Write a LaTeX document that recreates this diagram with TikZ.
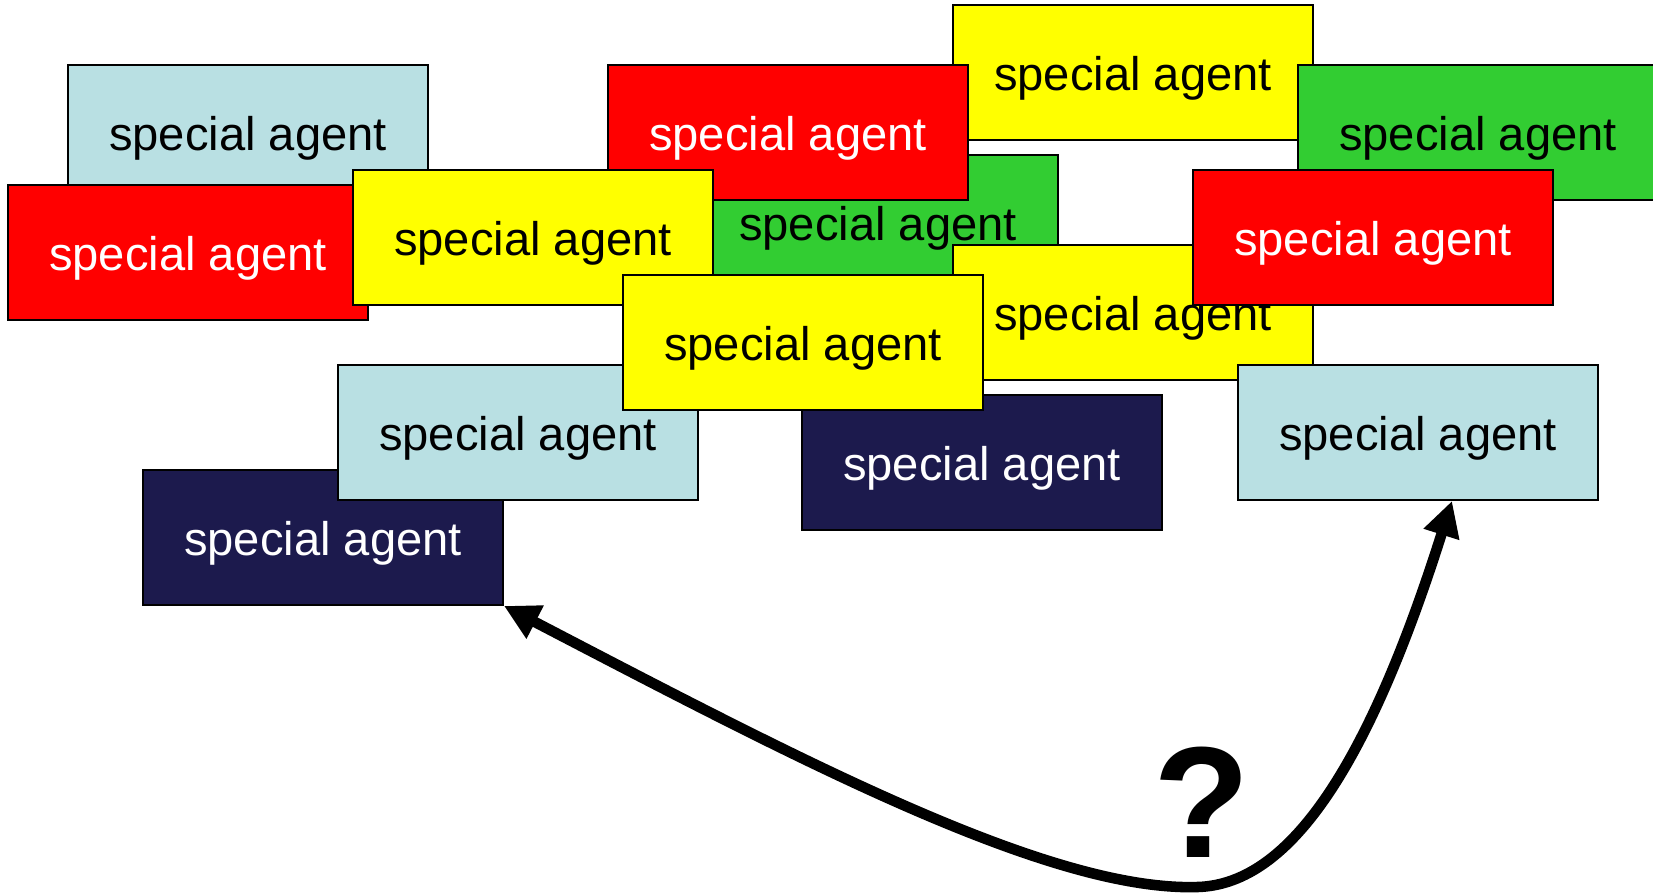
\documentclass[tikz,border=0pt]{standalone}
\usepackage{fontspec}
\setmainfont{Liberation Sans}
\usepackage{tikz}
\usetikzlibrary{arrows.meta,shapes,positioning}
\usepackage{xcolor}
\definecolor{sagblue}{RGB}{185,224,227}
\definecolor{sagred}{RGB}{255,0,0}
\definecolor{sagyellow}{RGB}{255,255,0}
\definecolor{saggreen}{RGB}{50,205,50}
\definecolor{sagnavy}{RGB}{28,26,77}
\tikzstyle{agent} = [rectangle, minimum width=3.6cm, minimum height=1.35cm, text centered, text height=10.4pt, text depth=0pt, draw=black, line width=0.5pt, font=\fontsize{13.4}{16}\selectfont]
\tikzstyle{darkagent} = [agent, text=white]
\tikzstyle{arrow} = [line width=3pt, {Triangle[length=10pt,width=10pt]}-{Triangle[length=10pt,width=10pt]}]

\begin{document}
\begin{tikzpicture}[x=0.01cm, y=-0.01cm]
\useasboundingbox (0,0) rectangle (1653,894);
% bottom layer first
\node (blue1) [agent, fill=sagblue] at (248,132.5) {special agent};
\node (red1) [darkagent, fill=sagred] at (188,252.5) {special agent};
\node (yellow1) [agent, fill=sagyellow] at (1133,72.5) {special agent};
\node (green1) [agent, fill=saggreen] at (878,222.5) {special agent};
\node (red2) [darkagent, fill=sagred] at (788,132.5) {special agent};
\node (yellow2) [agent, fill=sagyellow] at (533,237.5) {special agent};
\node (green2) [agent, fill=saggreen] at (1478,132.5) {special agent};
\node (yellow3) [agent, fill=sagyellow] at (1133,312.5) {special agent};
\node (red3) [darkagent, fill=sagred] at (1373,237.5) {special agent};
\node (navy1) [darkagent, fill=sagnavy] at (323,537.5) {special agent};
\node (blue2) [agent, fill=sagblue] at (518,432.5) {special agent};
\node (navy2) [darkagent, fill=sagnavy] at (982,462.5) {special agent};
\node (yellow4) [agent, fill=sagyellow] at (803,342.5) {special agent};
\node (blue3) [agent, fill=sagblue] at (1418,432.5) {special agent};

\draw[arrow] (navy1.south east) .. controls (800,760) and (1050,892) .. (1198,887)
  .. controls (1292,884) and (1370,760) .. ([xshift=0.34cm]blue3.south);
\node (ask) at (1202,802) {\fontsize{45}{45}\selectfont\bfseries ?};
\end{tikzpicture}
\end{document}
